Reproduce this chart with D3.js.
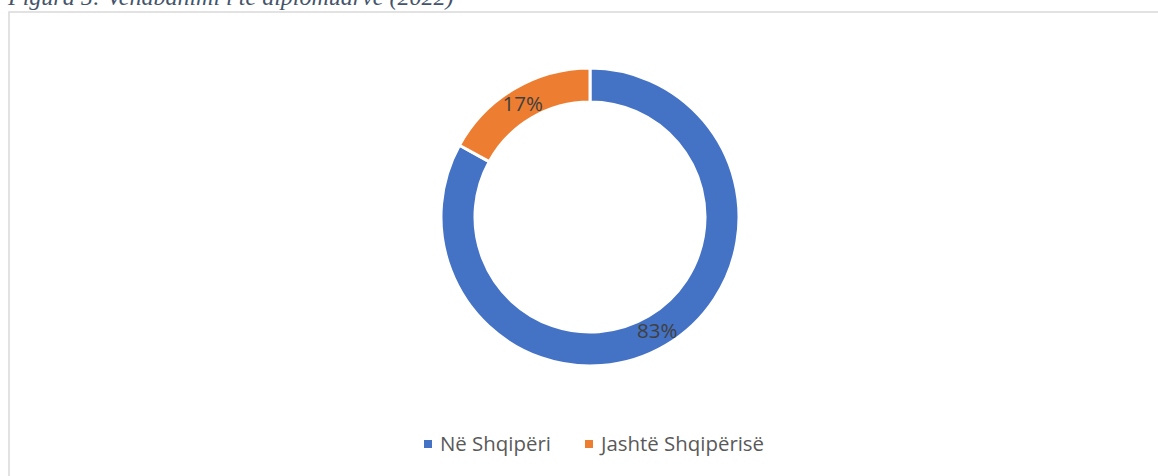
<!DOCTYPE html>
<html>
<head>
<meta charset="utf-8">
<script src="https://cdn.jsdelivr.net/npm/d3@7"></script>
<style>
    body { margin: 0; background: #fff; }
    svg { display: block; }
</style>
</head>
<body>
<div id="chart"></div>
<script>
// data
const categories = ["Në Shqipëri", "Jashtë Shqipërisë"];
const values = [83, 17];
const colors = ["#4472c4", "#ed7d31"];
const title = "Figura 5: Vendbanimi i të diplomuarve (2022)";

const width = 1158, height = 476;
const cx = 590, cy = 217, outerR = 149, innerR = 115;

let svg = d3.select("#chart").append("svg")
    .attr("width", width)
    .attr("height", height);

// title (cropped at the top of the picture)
let t = svg.append("text")
    .attr("x", 8)
    .attr("y", 5)
    .attr("font-family", "Liberation Serif, DejaVu Serif, serif")
    .attr("font-style", "italic")
    .attr("font-size", 20)
    .attr("fill", "#44546a")
    .text(title);
let tw = t.node().getComputedTextLength();
t.attr("font-size", 20 * 446 / tw);

// chart frame
svg.append("rect")
    .attr("x", 9)
    .attr("y", 12)
    .attr("width", 1160)
    .attr("height", 480)
    .attr("fill", "none")
    .attr("stroke", "#d9d9d9")
    .attr("stroke-width", 1.5);

let data = categories.map((c, i) => ({name: c, value: values[i], color: colors[i]}));
let total = d3.sum(values);

let pie = d3.pie()
    .value(d => d.value)
    .sort(null);

let arc = d3.arc().outerRadius(outerR).innerRadius(innerR);
let labelArc = d3.arc().outerRadius((outerR + innerR) / 2).innerRadius((outerR + innerR) / 2);

let g = svg.append("g")
    .attr("transform", "translate(" + cx + "," + cy + ")");

let arcs = g.selectAll("g.slice")
    .data(pie(data))
    .enter()
    .append("g")
    .attr("class", "slice");

arcs.append("path")
    .attr("d", arc)
    .attr("fill", d => d.data.color)
    .attr("stroke", "#fff")
    .attr("stroke-width", 3);

arcs.append("text")
    .attr("transform", d => "translate(" + labelArc.centroid(d) + ")")
    .attr("dy", ".35em")
    .attr("text-anchor", "middle")
    .attr("font-family", "Open Sans, Noto Sans, sans-serif")
    .attr("font-size", 20.5)
    .attr("fill", "#404040")
    .text(d => Math.round(d.data.value / total * 100) + "%");

// legend
let legend = svg.append("g")
    .attr("transform", "translate(0,444)");

let lx = [424, 585];
let items = legend.selectAll("g.item")
    .data(data)
    .enter()
    .append("g")
    .attr("class", "item")
    .attr("transform", (d, i) => "translate(" + lx[i] + ",0)");

items.append("rect")
    .attr("x", 0)
    .attr("y", -4)
    .attr("width", 8)
    .attr("height", 8)
    .attr("fill", d => d.color);

let lt = items.append("text")
    .attr("x", 16)
    .attr("dy", ".35em")
    .attr("font-family", "Open Sans, Noto Sans, sans-serif")
    .attr("font-size", 16)
    .attr("fill", "#595959")
    .text(d => d.name);
// size legend text so the first label spans ~111px like the reference
let lw = lt.node().getComputedTextLength();
lt.attr("font-size", 16 * 111 / lw);
</script>
</body>
</html>
